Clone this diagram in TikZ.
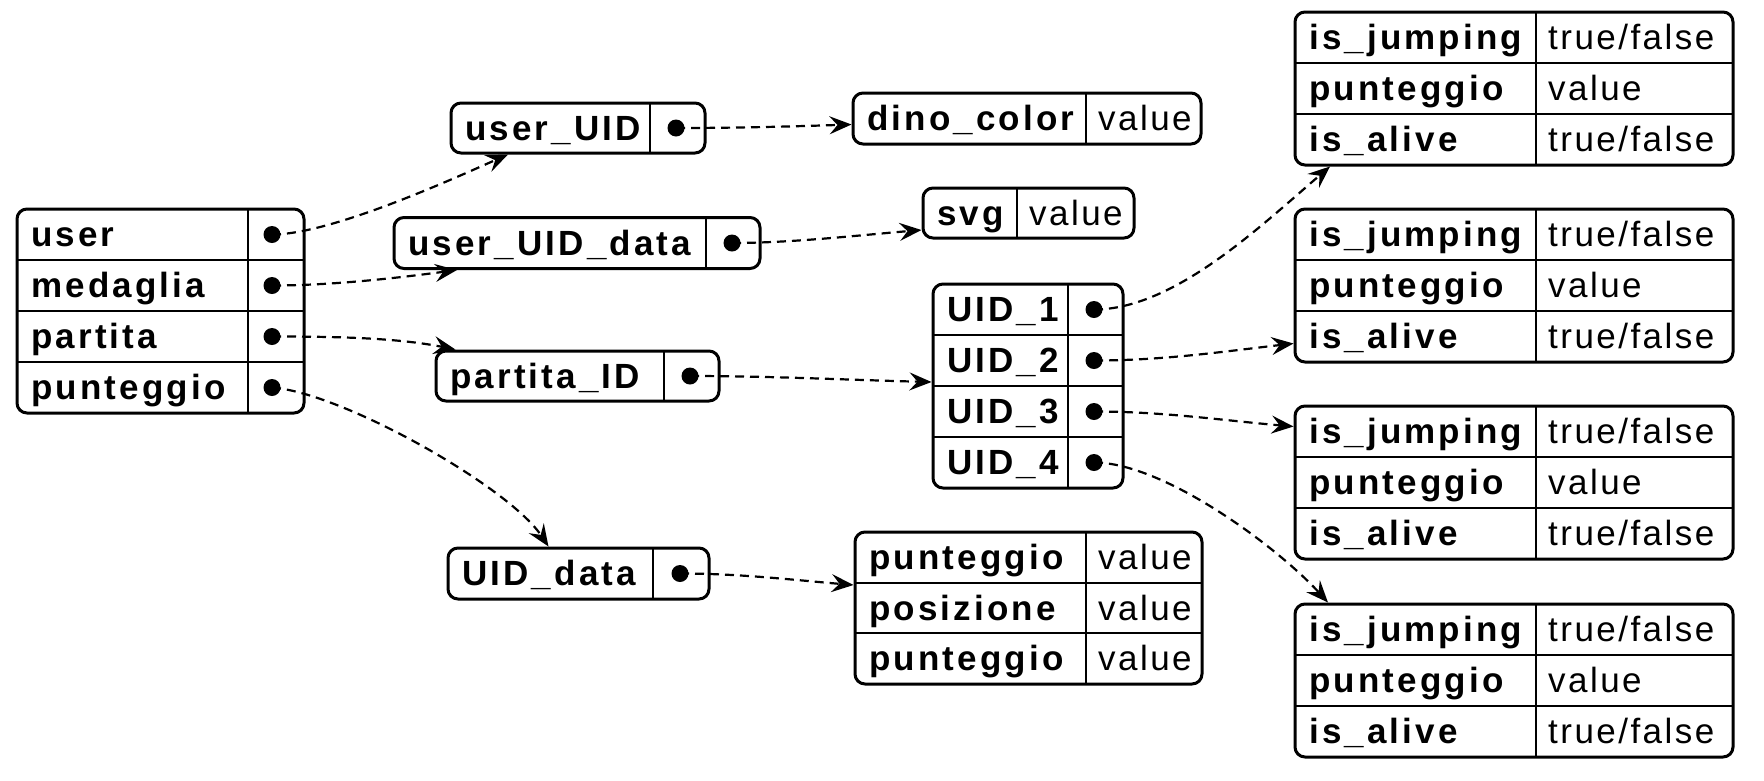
\documentclass[tikz,border=0pt]{standalone}
\usepackage{fontspec}
\setmainfont{Liberation Sans}
\newfontfamily\keyfont{Liberation Sans}[LetterSpace=9]
\newfontfamily\valfont{Liberation Sans}[LetterSpace=7]
\usetikzlibrary{arrows.meta}
\tikzset{
  recbox/.style={draw, line width=3pt, rounded corners=10pt, inner sep=0pt, fill=white},
  divline/.style={line width=2pt},
  kt/.style={anchor=base west, inner sep=0pt, font=\keyfont\bfseries\fontsize{35}{40}\selectfont},
  vt/.style={anchor=base west, inner sep=0pt, font=\valfont\fontsize{35}{40}\selectfont},
  portdot/.style={circle, fill=black, inner sep=0pt, minimum size=17pt},
  edgeline/.style={line width=2.2pt, dash pattern=on 9pt off 6pt, -{Stealth[length=22pt,width=18pt,inset=8pt]}},
}
\begin{document}
\begin{tikzpicture}[x=1pt,y=-1pt]
\useasboundingbox[fill=white] (0,0) rectangle (1764,780);

% root record
\node[recbox, minimum width=287pt, minimum height=204pt] (root) at (160.5,311) {};
\draw[divline] (248,209) -- (248,413);
\foreach \yy in {260,311,362} \draw[divline] (17,\yy) -- (304,\yy);
\node[kt] (k-user) at (31,246.5) {user};
\node[kt] (k-med) at (31,297.5) {medaglia};
\node[kt] (k-part) at (31,348.5) {partita};
\node[kt] (k-punt) at (31,399.5) {punteggio};
\node[portdot] (d-user) at (272,234.5) {};
\node[portdot] (d-med) at (272,285.5) {};
\node[portdot] (d-part) at (272,336.5) {};
\node[portdot] (d-punt) at (272,387.5) {};

% user_UID
\node[recbox, minimum width=254pt, minimum height=50pt] (uU) at (578,128) {};
\draw[divline] (650,103) -- (650,153);
\node[kt] (k-uU) at (465,140) {user\_UID};
\node[portdot] (d-uU) at (676,128) {};

% dino_color
\node[recbox, minimum width=348pt, minimum height=51pt] (dino) at (1027,118.5) {};
\draw[divline] (1086,93) -- (1086,144);
\node[kt] (k-dino) at (867,130.5) {dino\_color};
\node[vt] (v-dino) at (1098,130.5) {value};

% user_UID_data
\node[recbox, minimum width=366pt, minimum height=51pt] (uUd) at (577,243) {};
\draw[divline] (706,217.5) -- (706,268.5);
\node[kt] (k-uUd) at (408,255) {user\_UID\_data};
\node[portdot] (d-uUd) at (732,243) {};

% svg
\node[recbox, minimum width=211pt, minimum height=50pt] (svg) at (1028.5,213) {};
\draw[divline] (1017,188) -- (1017,238);
\node[kt] (k-svg) at (937,225) {svg};
\node[vt] (v-svg) at (1029,225) {value};

% partita_ID
\node[recbox, minimum width=283pt, minimum height=50pt] (pID) at (577.5,376) {};
\draw[divline] (664,351) -- (664,401);
\node[kt] (k-pID) at (450,388) {partita\_ID};
\node[portdot] (d-pID) at (690,376) {};

% UID list
\node[recbox, minimum width=190pt, minimum height=204pt] (uid) at (1028,386) {};
\draw[divline] (1068,284) -- (1068,488);
\foreach \yy in {335,386,437} \draw[divline] (933,\yy) -- (1123,\yy);
\node[kt] (k-u1) at (947,321.5) {UID\_1};
\node[kt] (k-u2) at (947,372.5) {UID\_2};
\node[kt] (k-u3) at (947,423.5) {UID\_3};
\node[kt] (k-u4) at (947,474.5) {UID\_4};
\node[portdot] (d-u1) at (1094,309.5) {};
\node[portdot] (d-u2) at (1094,360.5) {};
\node[portdot] (d-u3) at (1094,411.5) {};
\node[portdot] (d-u4) at (1094,462.5) {};

% UID_data
\node[recbox, minimum width=261pt, minimum height=51pt] (uidd) at (578.5,573.5) {};
\draw[divline] (653,548) -- (653,599);
\node[kt] (k-uidd) at (462,585.5) {UID\_data};
\node[portdot] (d-uidd) at (680,573.5) {};

% punteggio data
\node[recbox, minimum width=347pt, minimum height=152pt] (pdata) at (1028.5,608) {};
\draw[divline] (1086,532) -- (1086,684);
\foreach \yy in {582.7,633.3} \draw[divline] (855,\yy) -- (1202,\yy);
\node[kt] (k-pd1) at (869,569.3) {punteggio};
\node[kt] (k-pd2) at (869,620) {posizione};
\node[kt] (k-pd3) at (869,670.7) {punteggio};
\node[vt] (v-pd1) at (1098,569.3) {value};
\node[vt] (v-pd2) at (1098,620) {value};
\node[vt] (v-pd3) at (1098,670.7) {value};

% player tables
\foreach \n/\tp in {1/12,2/209,3/406,4/604} {
  \node[recbox, minimum width=438pt, minimum height=153pt] (t\n) at (1514,\tp+76.5) {};
  \draw[divline] (1536,\tp) -- (1536,\tp+153);
  \draw[divline] (1295,\tp+51) -- (1733,\tp+51);
  \draw[divline] (1295,\tp+102) -- (1733,\tp+102);
  \node[kt] (k-j\n) at (1309,\tp+37.5) {is\_jumping};
  \node[kt] (k-p\n) at (1309,\tp+88.5) {punteggio};
  \node[kt] (k-a\n) at (1309,\tp+139.5) {is\_alive};
  \node[vt] (v-j\n) at (1548,\tp+37.5) {true/false};
  \node[vt] (v-p\n) at (1548,\tp+88.5) {value};
  \node[vt] (v-a\n) at (1548,\tp+139.5) {true/false};
}

% connectors
\draw[edgeline] (d-user.center) .. controls +(60,0) and +(-50,22) .. ([xshift=-70pt]uU.south);
\draw[edgeline] (d-med.center) .. controls +(60,0) and +(-60,8) .. ([xshift=-120pt]uUd.south);
\draw[edgeline] (d-part.center) .. controls +(60,0) and +(-60,-12) .. ([xshift=-122pt]pID.north);
\draw[edgeline] (d-punt.center) .. controls +(70,5) and +(-40,-60) .. ([xshift=-30pt]uidd.north);
\draw[edgeline] (d-uU.center) .. controls +(60,0) and +(-60,2) .. ([yshift=-6pt]dino.west);
\draw[edgeline] (d-uUd.center) .. controls +(60,0) and +(-60,5) .. ([yshift=-17pt]svg.west);
\draw[edgeline] (d-pID.center) .. controls +(80,0) and +(-80,-2) .. ([yshift=4pt]uid.west);
\draw[edgeline] (d-u1.center) .. controls +(80,0) and +(-70,60) .. ([xshift=-184pt]t1.south);
\draw[edgeline] (d-u2.center) .. controls +(70,0) and +(-70,8) .. ([yshift=-58pt]t2.west);
\draw[edgeline] (d-u3.center) .. controls +(70,0) and +(-70,-6) .. ([yshift=56pt]t3.west);
\draw[edgeline] (d-u4.center) .. controls +(70,0) and +(-50,-55) .. ([xshift=-186pt]t4.north);
\draw[edgeline] (d-uidd.center) .. controls +(60,0) and +(-60,-5) .. ([yshift=23pt]pdata.west);
\end{tikzpicture}
\end{document}
